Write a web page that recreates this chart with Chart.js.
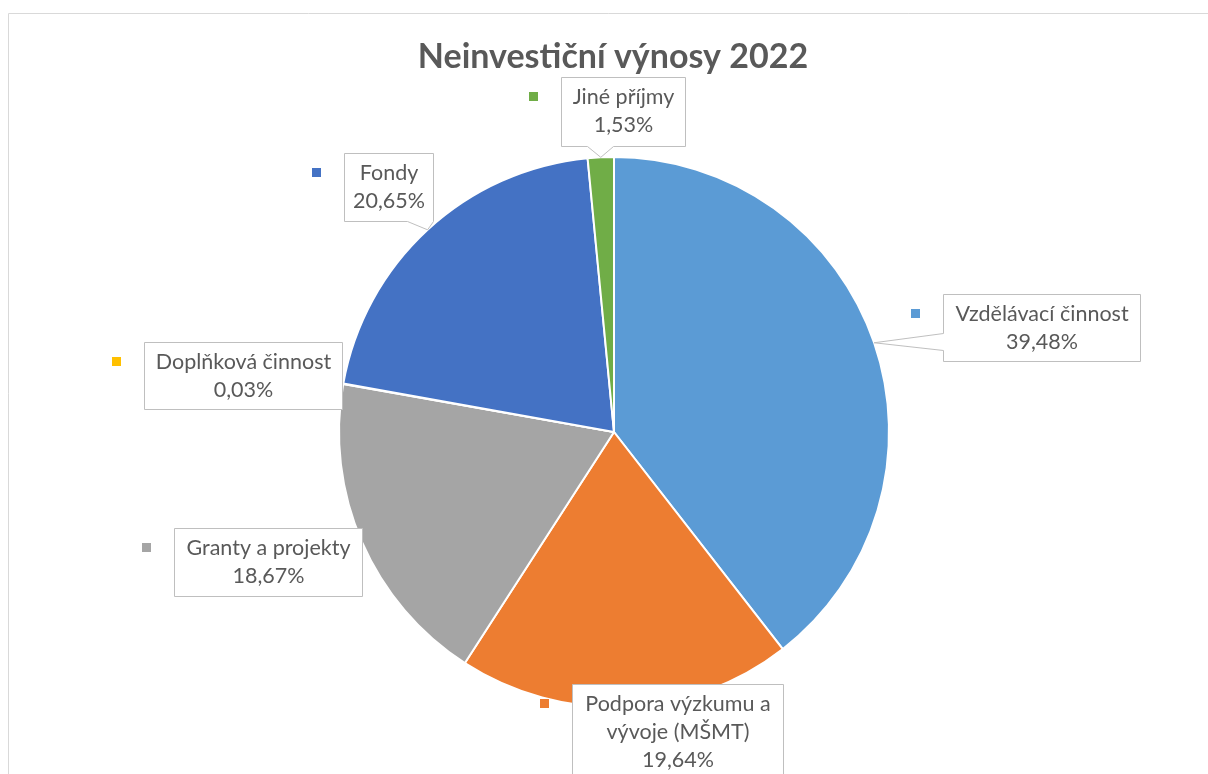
<!DOCTYPE html>
<html><head><meta charset="utf-8">
<script src="https://cdn.jsdelivr.net/npm/chart.js@4"></script>
<style>html,body{margin:0;padding:0;background:#fff;overflow:hidden}#wrap{width:1208px;height:774px;position:relative}</style>
</head><body><div id="wrap"><canvas id="c" width="1208" height="774"></canvas></div>
<script>
const chartTitle = 'Neinvestiční výnosy 2022';
const categories = ['Vzdělávací činnost', 'Podpora výzkumu a vývoje (MŠMT)', 'Granty a projekty', 'Doplňková činnost', 'Fondy', 'Jiné příjmy'];
const shares = [39.48, 19.64, 18.67, 0.03, 20.65, 1.53];
const sliceColors = ['#5B9BD5', '#ED7D31', '#A5A5A5', '#FFC000', '#4472C4', '#70AD47'];

// callout layout (box x, y, w, h) and pointer side
const callouts = [
  {box: [943, 294, 197, 67], pointer: {side: 'left', a: 333, b: 350}},
  {box: [572, 684, 211, 110], wrap: 200},
  {box: [174, 528, 188, 68]},
  {box: [144, 342, 198, 67]},
  {box: [344, 153, 89, 68], pointer: {side: 'bottom', a: 407, b: 433}},
  {box: [561, 77, 124, 69], pointer: {side: 'bottom', a: 587, b: 613}}
];
const FONT = '"Lato", "Open Sans", sans-serif';
const TEXT_COLOR = '#595959';

function fmt(v) { return v.toFixed(2).replace('.', ',') + '%'; }

function wrapText(ctx, text, maxW) {
  if (!maxW) return [text];
  const words = text.split(' ');
  const lines = [];
  let cur = '';
  for (const w of words) {
    const t = cur ? cur + ' ' + w : w;
    if (ctx.measureText(t).width > maxW && cur) { lines.push(cur); cur = w; }
    else cur = t;
  }
  if (cur) lines.push(cur);
  return lines;
}

const calloutPlugin = {
  id: 'callouts',
  beforeDraw(chart) {
    const ctx = chart.ctx;
    ctx.save();
    ctx.strokeStyle = '#D9D9D9';
    ctx.lineWidth = 1;
    ctx.beginPath();
    ctx.moveTo(8.5, 774);
    ctx.lineTo(8.5, 13.5);
    ctx.lineTo(1208, 13.5);
    ctx.stroke();
    // title
    ctx.fillStyle = TEXT_COLOR;
    ctx.font = 'bold 34px ' + FONT;
    ctx.textAlign = 'center';
    ctx.textBaseline = 'middle';
    ctx.fillText(chartTitle, 613, 57);
    ctx.restore();
  },
  afterDatasetsDraw(chart) {
    const ctx = chart.ctx;
    const meta = chart.getDatasetMeta(0);
    ctx.save();
    ctx.font = '21.5px ' + FONT;
    meta.data.forEach((arc, i) => {
      const c = callouts[i];
      const p = arc.getProps(['x', 'y', 'startAngle', 'endAngle', 'outerRadius'], true);
      const mid = (p.startAngle + p.endAngle) / 2;
      const ax = p.x + Math.cos(mid) * p.outerRadius;
      const ay = p.y + Math.sin(mid) * p.outerRadius;
      const [bx, by, bw, bh] = c.box;
      const x0 = bx + 0.5, y0 = by + 0.5, x1 = bx + bw + 0.5, y1 = by + bh + 0.5;
      ctx.beginPath();
      ctx.moveTo(x0, y0);
      ctx.lineTo(x1, y0);
      ctx.lineTo(x1, y1);
      if (c.pointer && c.pointer.side === 'bottom') {
        ctx.lineTo(c.pointer.b + 0.5, y1);
        ctx.lineTo(ax, ay);
        ctx.lineTo(c.pointer.a + 0.5, y1);
      }
      ctx.lineTo(x0, y1);
      if (c.pointer && c.pointer.side === 'left') {
        ctx.lineTo(x0, c.pointer.b + 0.5);
        ctx.lineTo(ax, ay);
        ctx.lineTo(x0, c.pointer.a + 0.5);
      }
      ctx.closePath();
      ctx.fillStyle = '#FFFFFF';
      ctx.fill();
      ctx.strokeStyle = '#BFBFBF';
      ctx.lineWidth = 1;
      ctx.stroke();
      // legend key
      ctx.fillStyle = sliceColors[i];
      ctx.fillRect(bx - 32, by + 15, 9, 9);
      // text
      const lines = wrapText(ctx, categories[i], c.wrap).concat([fmt(shares[i])]);
      ctx.fillStyle = TEXT_COLOR;
      ctx.textAlign = 'center';
      ctx.textBaseline = 'middle';
      const lh = 28;
      lines.forEach((ln, k) => {
        ctx.fillText(ln, bx + bw / 2 + 0.5, by + 6 + lh * (k + 0.5));
      });
    });
    ctx.restore();
  }
};

new Chart(document.getElementById('c'), {
  type: 'pie',
  data: {
    labels: categories,
    datasets: [{
      data: shares,
      backgroundColor: sliceColors,
      borderColor: '#FFFFFF',
      borderWidth: 2,
      radius: 275
    }]
  },
  options: {
    responsive: false,
    animation: false,
    devicePixelRatio: 1,
    layout: {padding: {top: 157, bottom: 67, left: 20, right: 0}},
    plugins: {legend: {display: false}, tooltip: {enabled: false}, title: {display: false}}
  },
  plugins: [calloutPlugin]
});
</script>
</body></html>
